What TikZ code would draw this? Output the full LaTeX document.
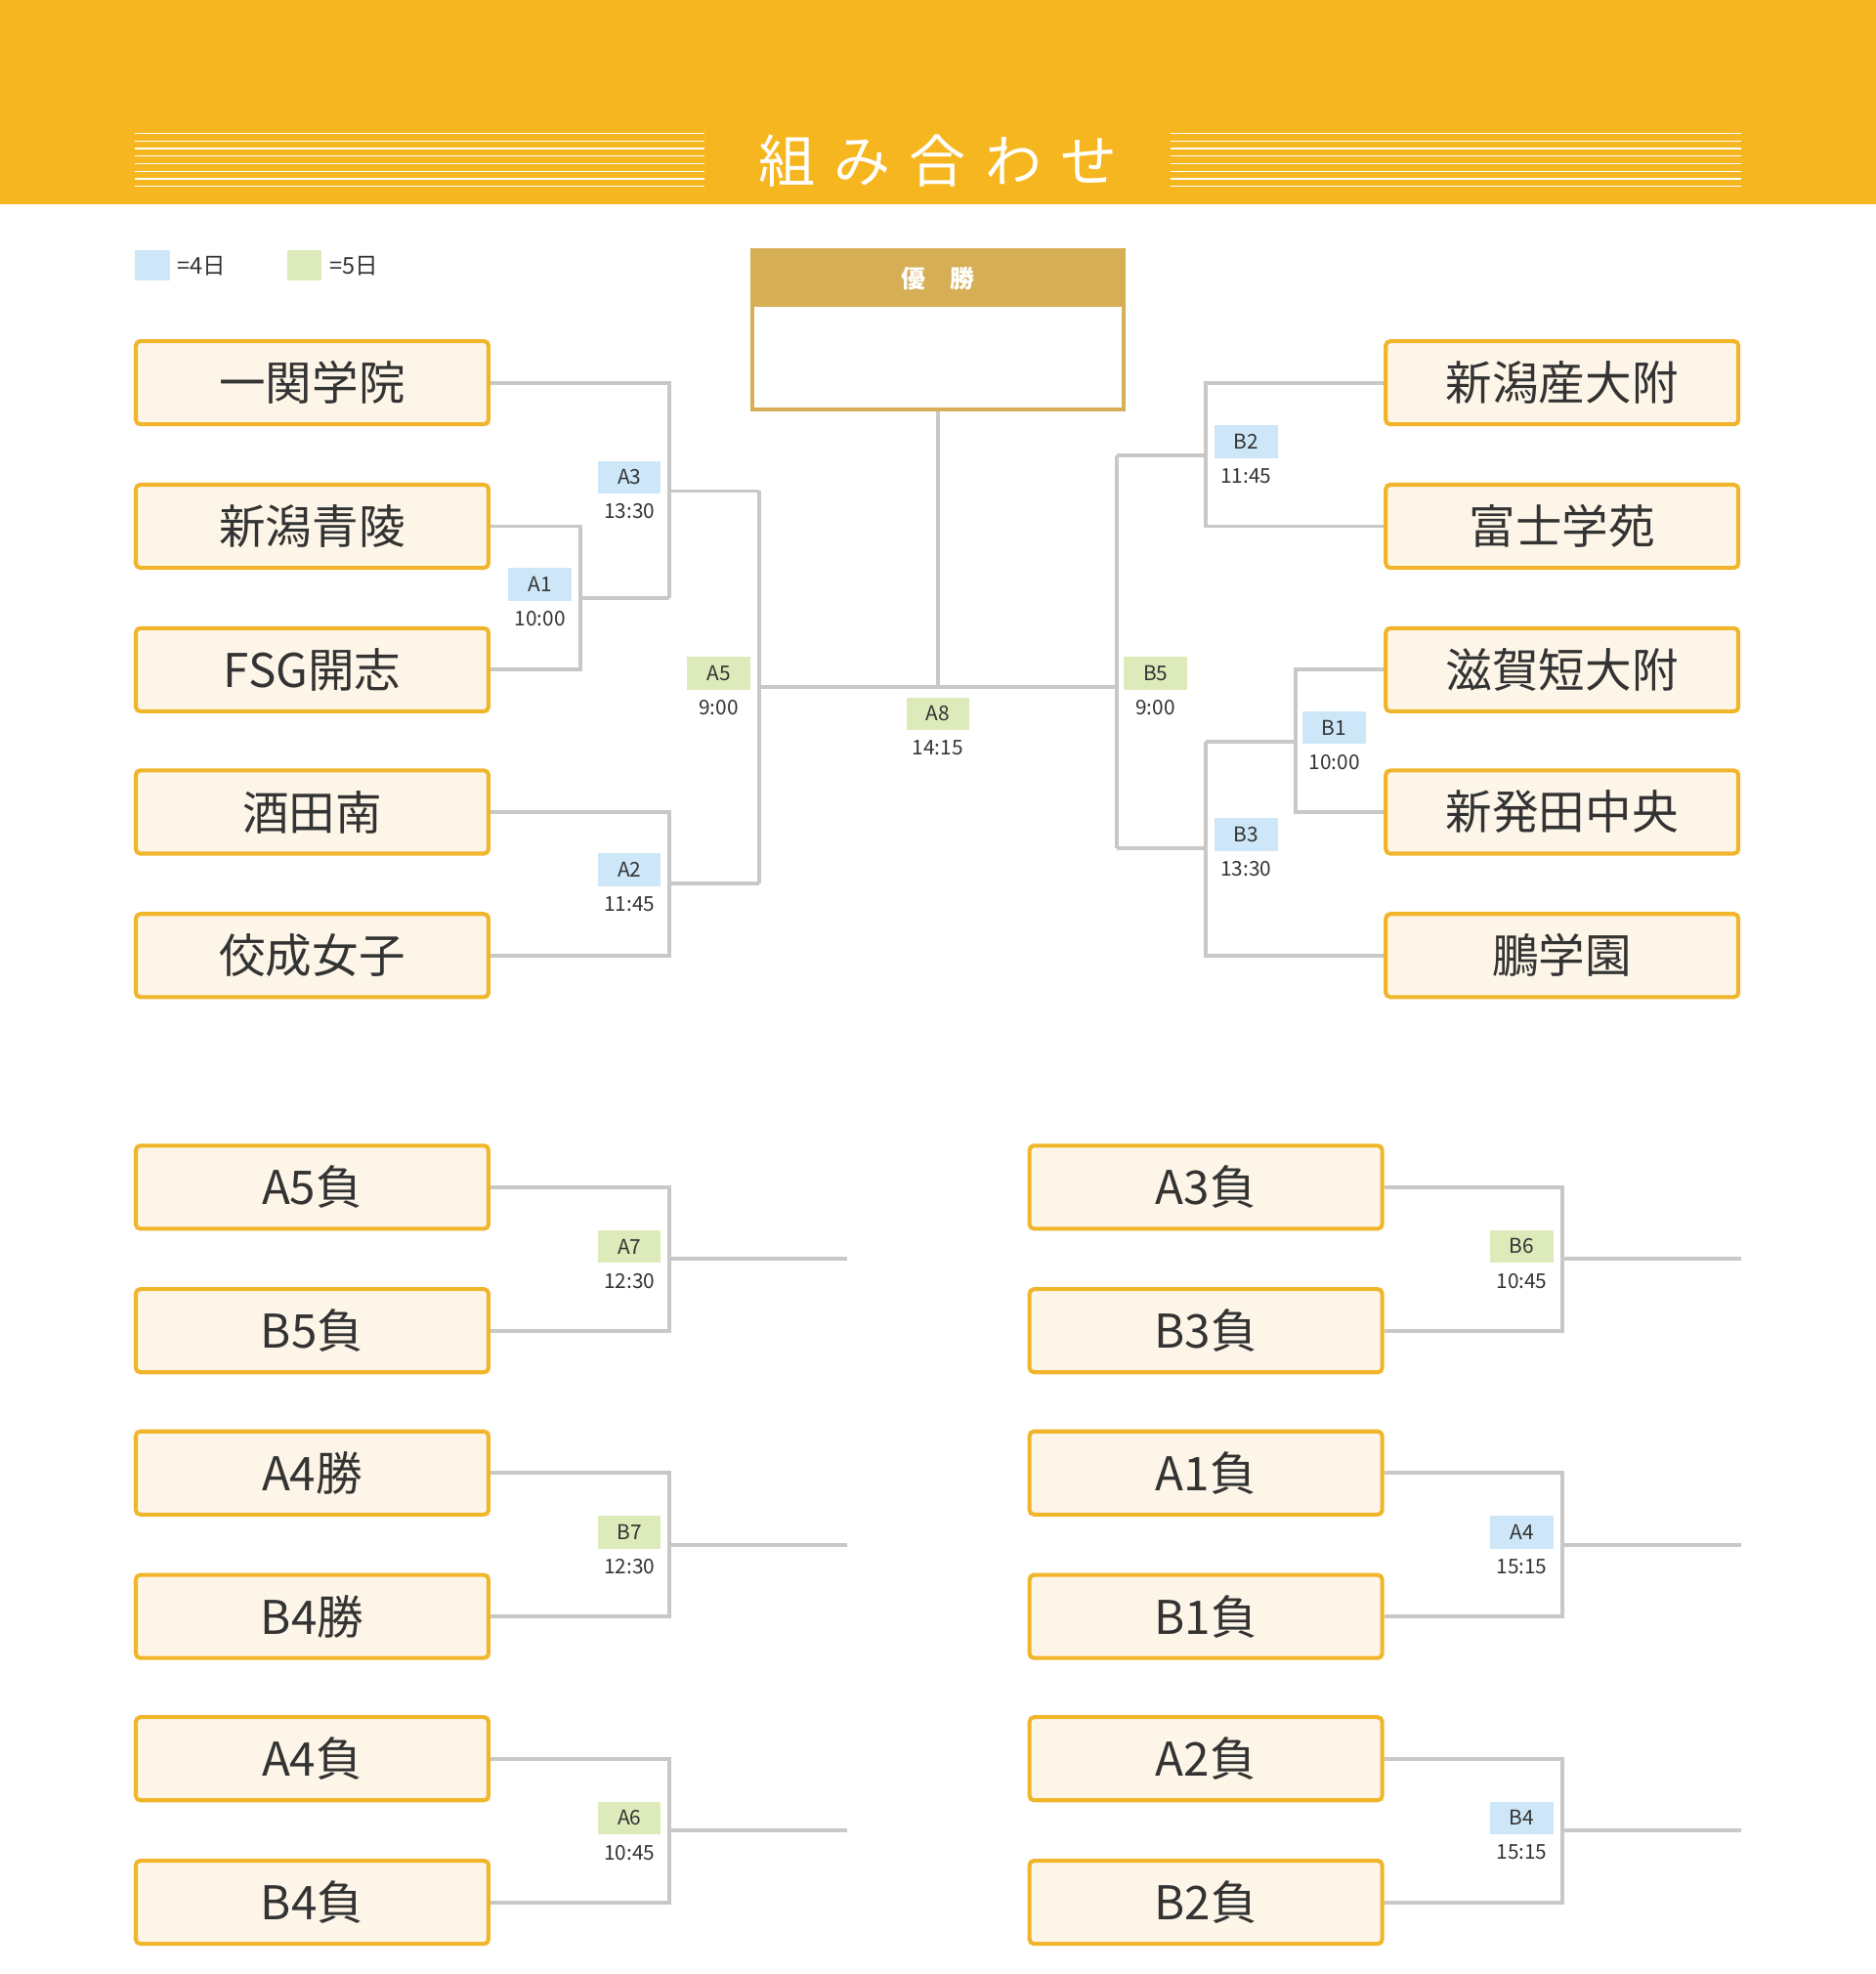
\documentclass[tikz,border=0pt]{standalone}
\usepackage{fontspec}
\setmainfont{Noto Sans CJK JP}
\usetikzlibrary{positioning}
\definecolor{hdr}{HTML}{F6B61F}
\definecolor{gold}{HTML}{D6AE55}
\definecolor{frame}{HTML}{F0B52A}
\definecolor{cream}{HTML}{FDF6E8}
\definecolor{wire}{HTML}{C8C8C8}
\definecolor{day4}{HTML}{CDE7F8}
\definecolor{day5}{HTML}{DCEBB9}
\definecolor{ink}{HTML}{333333}
\tikzset{
  team/.style={draw=frame,fill=cream,line width=0.9pt,rounded corners=1pt,
    minimum width=2.8cm,minimum height=0.66cm,inner sep=0pt,text=ink,
    font=\fontsize{10.5}{12}\selectfont},
  game/.style={minimum width=0.5cm,minimum height=0.26cm,inner sep=0pt,text=ink,
    font=\fontsize{4.6}{5}\selectfont},
  time/.style={text=ink,inner sep=0pt,font=\fontsize{4.6}{5}\selectfont},
  wire/.style={draw=wire,line width=0.85pt}
}
\begin{document}
\begin{tikzpicture}[x=0.01cm,y=-0.01cm]
\useasboundingbox (0,0) rectangle (1490,1568);
% header
\fill[hdr] (0,0) rectangle (1490,162);
\foreach \y in {106,112,...,150}{
  \draw[white,line width=0.3pt] (107,\y) -- (560,\y);
  \draw[white,line width=0.3pt] (930,\y) -- (1383,\y);
}
\node[text=white,font=\fontsize{12.8}{14}\selectfont] (title) at (745,128) {組\,\,み\,\,合\,\,わ\,\,せ};
% legend
\fill[day4] (107,199) rectangle (135,223);
\node[anchor=west,time,font=\fontsize{5.2}{6}\selectfont] (k4) at (140,211) {=4日};
\fill[day5] (228,199) rectangle (255,223);
\node[anchor=west,time,font=\fontsize{5.2}{6}\selectfont] (k5) at (261,211) {=5日};
% champion
\node[draw=gold,fill=white,line width=0.9pt,minimum width=2.95cm,minimum height=1.26cm,inner sep=0pt] (champ) at (745,262) {};
\fill[gold] (597,199) rectangle (892,244);
\node[text=white,font=\fontsize{5.5}{6}\selectfont\bfseries] (ctitle) at (745,221) {優\quad 勝};
% teams
\node[team] (L1) at (248,304) {一関学院};
\node[team] (L2) at (248,418) {新潟青陵};
\node[team] (L3) at (248,532) {FSG開志};
\node[team] (L4) at (248,645) {酒田南};
\node[team] (L5) at (248,759) {佼成女子};
\node[team] (R1) at (1241,304) {新潟産大附};
\node[team] (R2) at (1241,418) {富士学苑};
\node[team] (R3) at (1241,532) {滋賀短大附};
\node[team] (R4) at (1241,645) {新発田中央};
\node[team] (R5) at (1241,759) {鵬学園};
% junctions
\coordinate (a1) at (461,475);
\coordinate (a3) at (532,475);
\coordinate (a3o) at (532,390);
\coordinate (a2) at (532,702);
\coordinate (a5a) at (603,390);
\coordinate (a5b) at (603,702);
\coordinate (a5o) at (603,546);
\coordinate (b5o) at (887,546);
\coordinate (a8) at (745,546);
\coordinate (b2) at (958,362);
\coordinate (b1) at (1029,589);
\coordinate (b3) at (958,589);
\coordinate (b3o) at (958,674);
\coordinate (b5a) at (887,362);
\coordinate (b5b) at (887,674);
\draw[wire] (L2.east) -| (a1) |- (L3.east);
\draw[wire] (a1) -- (a3);
\draw[wire] (L1.east) -| (a3);
\draw[wire] (a3o) -- (a5a);
\draw[wire] (L4.east) -| (a2) |- (L5.east);
\draw[wire] (a2) -- (a5b);
\draw[wire] (a5a) -- (a5b);
\draw[wire] (a5o) -- (b5o);
\draw[wire] (champ.south) -- (a8);
\draw[wire] (R1.west) -| (b2) |- (R2.west);
\draw[wire] (b2) -- (b5a);
\draw[wire] (R3.west) -| (b1) |- (R4.west);
\draw[wire] (b1) -- (b3);
\draw[wire] (b3) |- (R5.west);
\draw[wire] (b3o) -- (b5b);
\draw[wire] (b5a) -- (b5b);
% game labels
\foreach \g/\c/\x/\y/\t in {A1/day4/429/464/10:00, A3/day4/500/379/13:30, A2/day4/500/691/11:45,
  A5/day5/571/535/9:00, A8/day5/745/567/14:15, B2/day4/990/351/11:45, B1/day4/1060/578/10:00,
  B3/day4/990/663/13:30, B5/day5/918/535/9:00}{
  \node[game,fill=\c] (g\g) at (\x,\y) {\g};
  \node[time,below=0.07cm of g\g] (t\g) {\t};
}
% consolation
\foreach \n/\a/\b/\y/\g/\c/\t in {1/A5負/B5負/943/A7/day5/12:30, 2/A4勝/B4勝/1170/B7/day5/12:30,
  3/A4負/B4負/1397/A6/day5/10:45}{
  \node[team] (P\n a) at (248,\y) {\a};
  \node[team] (P\n b) at (248,\y+114) {\b};
  \coordinate (p\n) at (532,\y+57);
  \coordinate (p\n o) at (673,\y+57);
  \draw[wire] (P\n a.east) -| (p\n) |- (P\n b.east);
  \draw[wire] (p\n) -- (p\n o);
  \node[game,fill=\c] (g\g) at (500,\y+47) {\g};
  \node[time,below=0.07cm of g\g] (t\g) {\t};
}
\foreach \n/\a/\b/\y/\g/\c/\t in {1/A3負/B3負/943/B6/day5/10:45, 2/A1負/B1負/1170/A4/day4/15:15,
  3/A2負/B2負/1397/B4/day4/15:15}{
  \node[team] (Q\n a) at (958,\y) {\a};
  \node[team] (Q\n b) at (958,\y+114) {\b};
  \coordinate (q\n) at (1241,\y+57);
  \coordinate (q\n o) at (1383,\y+57);
  \draw[wire] (Q\n a.east) -| (q\n) |- (Q\n b.east);
  \draw[wire] (q\n) -- (q\n o);
  \node[game,fill=\c] (g\g) at (1209,\y+47) {\g};
  \node[time,below=0.07cm of g\g] (t\g) {\t};
}
\end{tikzpicture}
\end{document}
